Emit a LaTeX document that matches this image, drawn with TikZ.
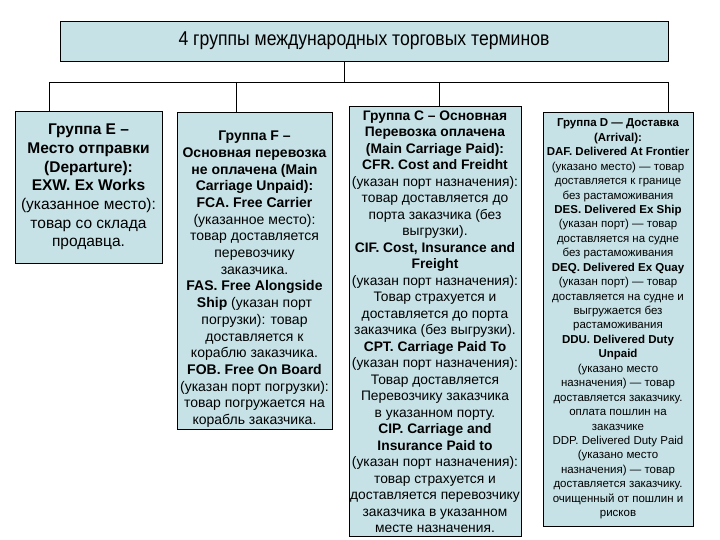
\documentclass[tikz,border=0pt]{standalone}
\usepackage{fontspec}
\setmainfont{Liberation Sans}
\newfontfamily\titlefont[FakeStretch=0.88]{Liberation Sans}
\usetikzlibrary{positioning}
\definecolor{grpfill}{RGB}{198,226,230}
\tikzset{
    grpbox/.style={rectangle, draw, fill=grpfill, align=center, inner xsep=1pt, inner ysep=2pt, line width=0.9pt},
    link/.style={draw, line width=0.9pt},
}

\begin{document}
\begin{tikzpicture}[x=1pt, y=-1pt]
    \useasboundingbox (0,0) rectangle (720,540);
    \clip (0,0) rectangle (720,540);

    \node[grpbox, minimum width=608, minimum height=40, font=\titlefont\fontsize{20}{24}\selectfont] (title) at (364,41) {4 группы международных торговых терминов};

    \node[grpbox, minimum width=147, minimum height=152, font=\fontsize{15.5}{18.7}\selectfont] (grpE) at (88.5,187) {\textbf{Группа E –}\\ \textbf{Место отправки}\\ \textbf{(Departure):}\\ \textbf{EXW. Ex Works}\\ (указанное место):\\ товар со склада\\ продавца.};

    \node[grpbox, minimum width=155, minimum height=316, font=\fontsize{14}{16.7}\selectfont] (grpF) at (254.5,271) {\rule{0pt}{26pt}\textbf{Группа F –}\\ \textbf{Основная перевозка}\\ \textbf{не оплачена (Main}\\ \textbf{Carriage Unpaid):}\\ \textbf{FCA. Free Carrier}\\ (указанное место):\\ товар доставляется\\ перевозчику\\ заказчика.\\ \textbf{FAS. Free Alongside}\\ \textbf{Ship} (указан порт\\ погрузки): товар\\ доставляется к\\ кораблю заказчика.\\ \textbf{FOB. Free On Board}\\ (указан порт погрузки):\\ товар погружается на\\ корабль заказчика.};

    \node[grpbox, anchor=north, minimum width=172, inner ysep=4pt, font=\fontsize{13.8}{16.5}\selectfont] (grpC) at (435,106) {\textbf{Группа С – Основная}\\ \textbf{Перевозка оплачена}\\ \textbf{(Main Carriage Paid):}\\ \textbf{CFR. Cost and Freidht}\\ (указан порт назначения):\\ товар доставляется до\\ порта заказчика (без\\ выгрузки).\\ \textbf{CIF. Cost, Insurance and}\\ \textbf{Freight}\\ (указан порт назначения):\\ Товар страхуется и\\ доставляется до порта\\ заказчика (без выгрузки).\\ \textbf{CPT. Carriage Paid To}\\ (указан порт назначения):\\ Товар доставляется\\ Перевозчику заказчика\\ в указанном порту.\\ \textbf{CIP. Carriage and}\\ \textbf{Insurance Paid to}\\ (указан порт назначения):\\ товар страхуется и\\ доставляется перевозчику\\ заказчика в указанном\\ месте назначения.};

    \node[grpbox, minimum width=150, minimum height=414, font=\fontsize{11.5}{14.44}\selectfont] (grpD) at (618,319) {\textbf{Группа D — Доставка}\\ \textbf{(Arrival):}\\ \textbf{DAF. Delivered At Frontier}\\ (указано место) — товар\\ доставляется к границе\\ без растаможивания\\ \textbf{DES. Delivered Ex Ship}\\ (указан порт) — товар\\ доставляется на судне\\ без растаможивания\\ \textbf{DEQ. Delivered Ex Quay}\\ (указан порт) — товар\\ доставляется на судне и\\ выгружается без\\ растаможивания\\ \textbf{DDU. Delivered Duty}\\ \textbf{Unpaid}\\ (указано место\\ назначения) — товар\\ доставляется заказчику.\\ оплата пошлин на\\ заказчике\\ DDP. Delivered Duty Paid\\ (указано место\\ назначения) — товар\\ доставляется заказчику.\\ очищенный от пошлин и\\ рисков};

    \coordinate (stem) at (344,82);
    \coordinate (busE) at (49,82);
    \coordinate (busF) at (236,82);
    \coordinate (busC) at (439,82);
    \coordinate (busD) at (668,82);

    \draw[link] (title.south -| stem) -- (stem);
    \draw[link] (busE) -- (busD);
    \foreach \g in {E,F,C,D}
        \draw[link] (bus\g) -- (bus\g |- grp\g.north);
\end{tikzpicture}
\end{document}
